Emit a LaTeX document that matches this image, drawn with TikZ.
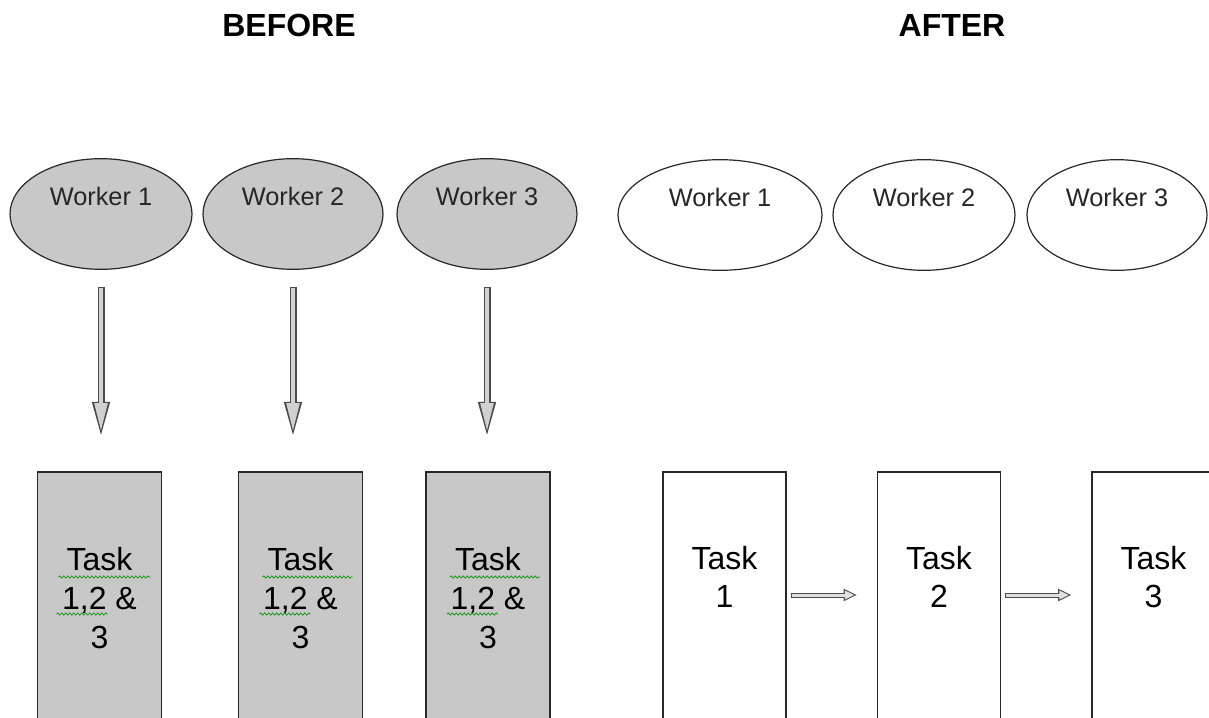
\documentclass[tikz,border=0pt]{standalone}
\usepackage{fontspec}
\setmainfont{Liberation Sans}
\usepackage{xcolor}
\usetikzlibrary{shapes.geometric, arrows.meta, decorations.pathmorphing}
\definecolor{boxgray}{RGB}{200,200,200}
\definecolor{edgegray}{RGB}{40,40,40}
\tikzstyle{worker} = [ellipse, draw=edgegray, line width=0.9pt, inner sep=0pt, minimum width=135pt, minimum height=83pt]
\tikzstyle{wname} = [text=black!85, font=\fontsize{19}{23}\selectfont, yshift=13.5pt]
\tikzstyle{task} = [rectangle, draw=edgegray, line width=1.1pt, inner sep=0pt, minimum width=93pt, minimum height=195pt]
\tikzstyle{tname} = [align=center, font=\fontsize{24}{29}\selectfont]
\tikzstyle{heading} = [font=\bfseries\fontsize{24}{29}\selectfont]
\tikzstyle{downarrow} = [line width=5.25pt, draw=black!70, -{Triangle[length=27pt, width=12pt]}, shorten <=12.75pt, shorten >=25pt,
  postaction={draw=black!18, line width=3pt, -{Triangle[length=21pt, width=9.3pt]}, shorten <=13.85pt, shorten >=30.1pt}]
\tikzstyle{nextarrow} = [line width=3.75pt, draw=black!70, -{Triangle[length=10pt, width=8.6pt]}, shorten <=3pt, shorten >=15pt,
  postaction={draw=black!12, line width=2.25pt, -{Triangle[length=7.3pt, width=6.2pt]}, shorten <=3.75pt, shorten >=16.8pt}]
\tikzstyle{squiggle} = [draw=green!55!black, line width=0.5pt, decorate, decoration={snake, amplitude=0.8pt, segment length=3pt}]

\begin{document}
\begin{tikzpicture}[x=0.75pt, y=-0.75pt]
\clip (0,0) rectangle (1209,717);
\fill[white] (0,0) rectangle (1209,717);

\node[heading] (before) at (289,25) {BEFORE};
\node[heading] (after) at (952,25) {AFTER};

\node[worker, fill=boxgray, minimum width=136.5pt, label={[wname]center:Worker 1}] (bw1) at (101,214) {};
\node[worker, fill=boxgray, label={[wname]center:Worker 2}] (bw2) at (293,214) {};
\node[worker, fill=boxgray, label={[wname]center:Worker 3}] (bw3) at (487,214) {};

\node[task, fill=boxgray, label={[tname, yshift=3pt]center:{Task\\1,2 \&\\3}}] (bt1) at (99.5,602) {};
\node[task, fill=boxgray, label={[tname, yshift=3pt]center:{Task\\1,2 \&\\3}}] (bt2) at (300.5,602) {};
\node[task, fill=boxgray, label={[tname, yshift=3pt]center:{Task\\1,2 \&\\3}}] (bt3) at (488,602) {};

\draw[downarrow] (bw1.south) -- (bw1.south |- bt1.north);
\draw[downarrow] (bw2.south) -- (bw2.south |- bt2.north);
\draw[downarrow] (bw3.south) -- (bw3.south |- bt3.north);

\draw[squiggle] ([shift={(-41,-25)}]bt1.center) -- ++(92,0);
\draw[squiggle] ([shift={(-43,12)}]bt1.center) -- ++(51,0);
\draw[squiggle] ([shift={(-38,-25)}]bt2.center) -- ++(90,0);
\draw[squiggle] ([shift={(-41,12)}]bt2.center) -- ++(51,0);
\draw[squiggle] ([shift={(-38,-25)}]bt3.center) -- ++(90,0);
\draw[squiggle] ([shift={(-41,12)}]bt3.center) -- ++(51,0);

\node[worker, fill=white, minimum width=153pt, label={[wname]center:Worker 1}] (aw1) at (720,215) {};
\node[worker, fill=white, minimum width=136.5pt, label={[wname]center:Worker 2}] (aw2) at (924,215) {};
\node[worker, fill=white, label={[wname]center:Worker 3}] (aw3) at (1117,215) {};

\node[task, fill=white, minimum width=92pt, label={[tname, yshift=18.75pt]center:{Task\\1}}] (at1) at (724.5,602) {};
\node[task, fill=white, minimum width=92pt, label={[tname, yshift=18.75pt]center:{Task\\2}}] (at2) at (939,602) {};
\node[task, fill=white, minimum width=92pt, label={[tname, yshift=18.75pt]center:{Task\\3}}] (at3) at (1153.5,602) {};

\draw[nextarrow] (at1.east |- 0,595) -- (at2.west |- 0,595);
\draw[nextarrow] (at2.east |- 0,595) -- (at3.west |- 0,595);
\end{tikzpicture}
\end{document}
